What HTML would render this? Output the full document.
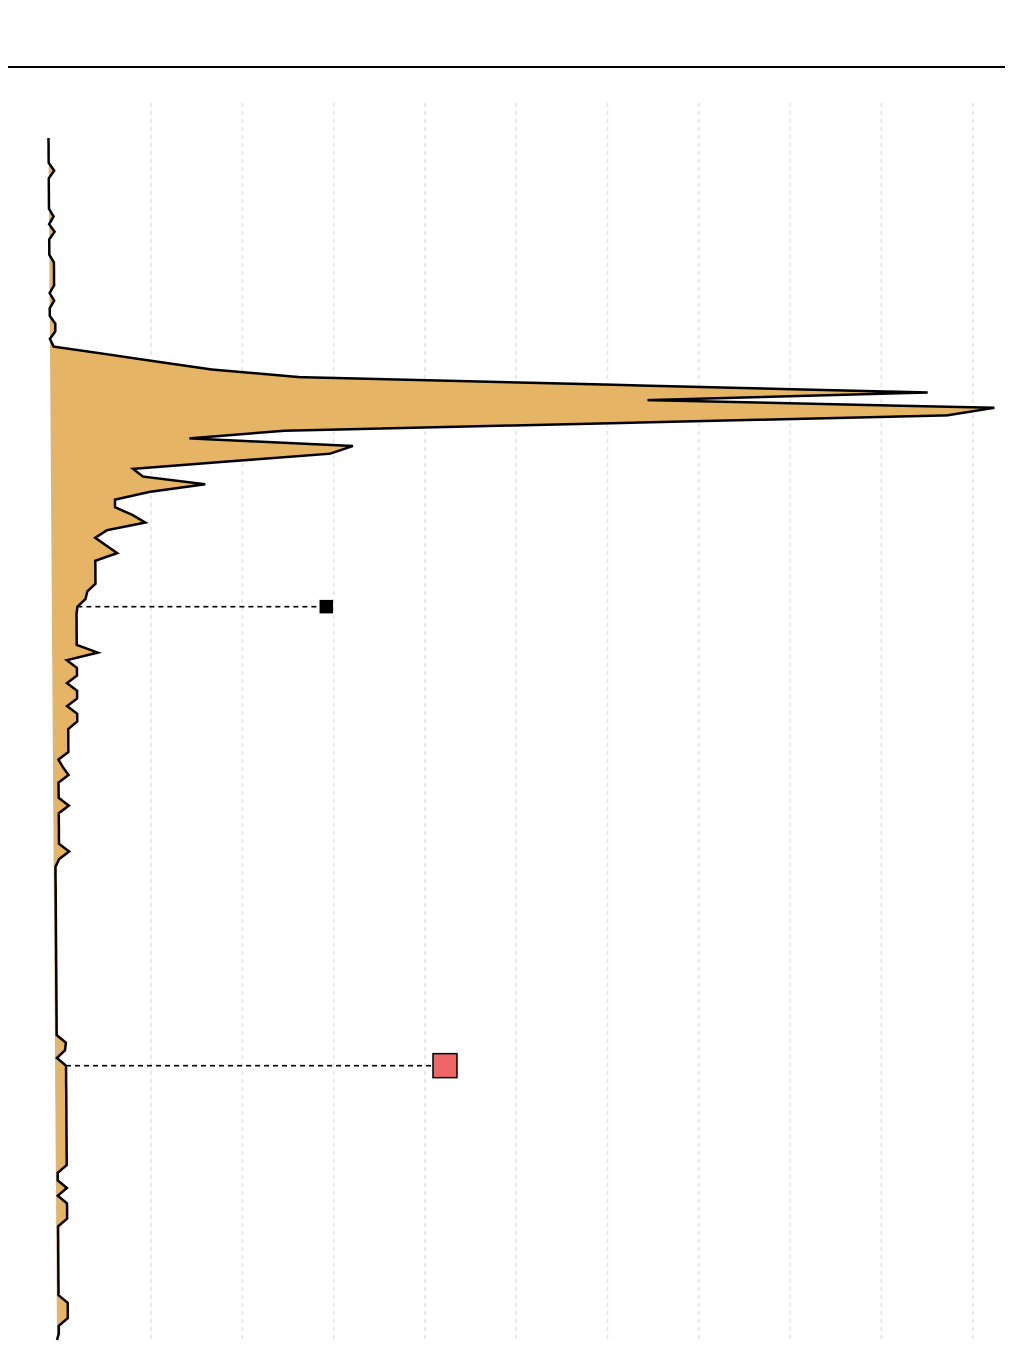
<!DOCTYPE html>
<html><head><meta charset="utf-8"><style>
html,body{margin:0;padding:0;background:#fff;}
svg{display:block;font-family:"Liberation Sans",sans-serif;}
</style></head><body>
<svg id="chart" width="1020" height="1364" viewBox="0 0 1020 1364">
<line x1="8" y1="67" x2="1005" y2="67" stroke="#000" stroke-width="2"/>
<g id="grid"></g>
<g id="marks"></g>
</svg>
<script>
// values along the series (index = time step, top to bottom); 100 = one grid interval
const values = [
0,0,0,0,6,0,0,0,0,0, 5,0,6,0,0,0,5,5,5,5, 0,5,0,0,6,6,0,4,62,119,
177,273,617,961,654,1034,982,619,256,152, 331,306,197,90,101,169,108,70,70,89,
103,61,48,60,72,48,48,48,48,39, 37,28,27,27,27,27,27,50,16,27,
27,16,27,27,16,27,27,17,17,17, 17,6,11,17,6,6,6,17,6,6,
6,6,6,17,6,2,2,2,2,2, 2,2,2,2,2,2,2,2,2,2,
2,2,2,2,2,2,2,2,12,11, 2,12,12,12,12,12,12,12,12,12,
12,12,12,12,12,2,2,12,2,12, 12,12,2,2,2,2,2,2,2,2,
2,2,12,12,12,2,2
];
const gridTicks = [100,200,300,400,500,600,700,800,900,1000];
const markerBlack = {index: 61, value: 292};
const markerRed = {index: 121, value: 422};

const NS = "http://www.w3.org/2000/svg";
const y0 = 140, step = 7.65, pxPerUnit = 0.913;
function yPos(i){ return y0 + i*step; }
function baseX(y){ return 48.5 + (y-140)*8.5/1195; }
function xPos(v, y){ return baseX(y) + v*pxPerUnit; }
function xGrid(v){ return 59.7 + v*pxPerUnit; }

const grid = document.getElementById('grid');
gridTicks.forEach(t=>{
  const l = document.createElementNS(NS,'line');
  
  
  l.setAttribute('x1',xGrid(t)); l.setAttribute('x2',xGrid(t));
  l.setAttribute('y1',103); l.setAttribute('y2',1340);
  l.setAttribute('stroke','#e2e2e2'); l.setAttribute('stroke-width','1.5');
  l.setAttribute('stroke-dasharray','4 4');
  grid.appendChild(l);
});

const marks = document.getElementById('marks');
const edgePts = [], basePts = [];
values.forEach((v,i)=>{
  const y = yPos(i);
  edgePts.push(xPos(v,y).toFixed(1)+','+y.toFixed(1));
  basePts.push(baseX(y).toFixed(1)+','+y.toFixed(1));
});
const area = document.createElementNS(NS,'polygon');


area.setAttribute('points', edgePts.concat(basePts.slice().reverse()).join(' '));
area.setAttribute('fill','#e5b465');
marks.appendChild(area);
const line = document.createElementNS(NS,'polyline');


line.setAttribute('points', '48.5,138 ' + edgePts.join(' ') + ' ' + (baseX(1340)).toFixed(1)+',1340');
line.setAttribute('fill','none'); line.setAttribute('stroke','#000');
line.setAttribute('stroke-width','2.5'); line.setAttribute('stroke-linejoin','miter');
marks.appendChild(line);

function annot(m, size, fill, name){
  const y = yPos(m.index);
  const x1 = xPos(values[m.index], y);
  const x2 = xGrid(m.value) - size/2;
  const d = document.createElementNS(NS,'line');
  
  
  d.setAttribute('x1',x1); d.setAttribute('x2',x2);
  d.setAttribute('y1',y); d.setAttribute('y2',y);
  d.setAttribute('stroke','#000'); d.setAttribute('stroke-width','1.6');
  d.setAttribute('stroke-dasharray','5 4');
  marks.appendChild(d);
  const r = document.createElementNS(NS,'rect');
  
  
  r.setAttribute('x',x2); r.setAttribute('y',y-size/2);
  r.setAttribute('width',size); r.setAttribute('height',size);
  r.setAttribute('fill',fill); r.setAttribute('stroke','#000'); r.setAttribute('stroke-width','1.5');
  marks.appendChild(r);
}
annot(markerBlack, 12, '#000', 'marker-black');
annot(markerRed, 24, '#ee6666', 'marker-red');
</script>
</body></html>
